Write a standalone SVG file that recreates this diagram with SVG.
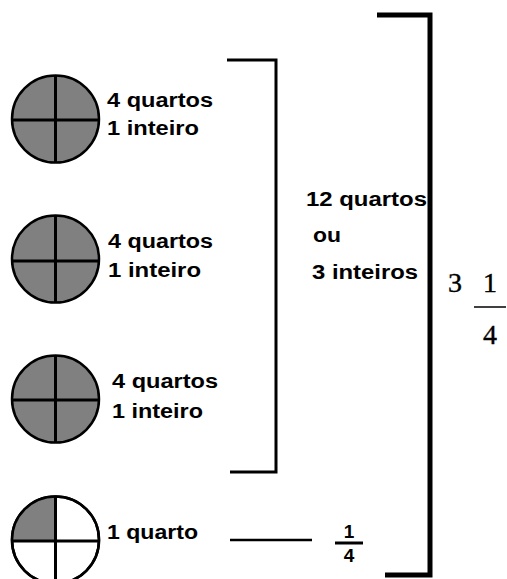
<svg xmlns="http://www.w3.org/2000/svg" width="507" height="579" viewBox="0 0 507 579">
<style>
.c{fill:#808080;stroke:#000;stroke-width:2.5}
.w{fill:#fff;stroke:#000;stroke-width:2.5}
.x{stroke:#000;stroke-width:3;fill:none}
.t{font-family:"Liberation Sans",Arial,sans-serif;font-weight:bold;font-size:20px;fill:#000}
.b{font-family:"Liberation Sans",Arial,sans-serif;font-weight:bold;font-size:20px;fill:#000}
.s{font-family:"Liberation Serif","Times New Roman",serif;font-size:28px;fill:#000;stroke:#000;stroke-width:0.4}
.f{font-family:"Liberation Sans",Arial,sans-serif;font-weight:bold;font-size:19px;fill:#000}
</style>
<rect width="507" height="579" fill="#fff"/>
<g id="circle1">
<circle class="c" cx="55.5" cy="119" r="43.5"/>
<path class="x" d="M12 120H99M55.5 75V163"/>
<text class="t" x="107" y="107" textLength="106" lengthAdjust="spacingAndGlyphs">4 quartos</text>
<text class="t" x="107" y="135" textLength="92" lengthAdjust="spacingAndGlyphs">1 inteiro</text>
</g>
<g id="circle2">
<circle class="c" cx="55.5" cy="259" r="43.5"/>
<path class="x" d="M12 261H99M55.5 215V303"/>
<text class="t" x="108" y="248" textLength="105" lengthAdjust="spacingAndGlyphs">4 quartos</text>
<text class="t" x="108" y="277" textLength="93" lengthAdjust="spacingAndGlyphs">1 inteiro</text>
</g>
<g id="circle3">
<circle class="c" cx="55.5" cy="399" r="43.5"/>
<path class="x" d="M12 400H99M55.5 355V443"/>
<text class="t" x="112" y="388" textLength="106" lengthAdjust="spacingAndGlyphs">4 quartos</text>
<text class="t" x="112" y="418" textLength="91" lengthAdjust="spacingAndGlyphs">1 inteiro</text>
</g>
<g id="circle4">
<circle class="w" cx="55.5" cy="540" r="43.5"/>
<path d="M55.5 540V496.5A43.5 43.5 0 0 0 12 540Z" fill="#808080"/>
<circle cx="55.5" cy="540" r="43.5" fill="none" stroke="#000" stroke-width="2.5"/>
<path class="x" d="M12 541H99M55.5 496V584"/>
<text class="t" x="107" y="539" textLength="91" lengthAdjust="spacingAndGlyphs">1 quarto</text>
</g>
<g id="group12">
<text class="b" x="306" y="206" textLength="121" lengthAdjust="spacingAndGlyphs">12 quartos</text>
<text class="b" x="313" y="242" textLength="28" lengthAdjust="spacingAndGlyphs">ou</text>
<text class="b" x="312" y="279" textLength="106" lengthAdjust="spacingAndGlyphs">3 inteiros</text>
</g>
<g id="quarter">
<text class="f" x="349" y="538" text-anchor="middle">1</text>
<line x1="335" y1="543" x2="363" y2="543" stroke="#000" stroke-width="3"/>
<text class="f" x="349" y="562" text-anchor="middle">4</text>
</g>
<g id="total">
<text class="s" x="448" y="292">3</text>
<text class="s" x="490" y="292" text-anchor="middle">1</text>
<line x1="474" y1="307" x2="506" y2="307" stroke="#000" stroke-width="1.5"/>
<text class="s" x="490" y="344" text-anchor="middle">4</text>
</g>
<g id="connectors">
<polyline class="x" points="227,60 276,60 276,472 230,472"/>
<polyline fill="none" stroke="#000" stroke-width="5" points="377,15 430,15 430,575 385,575"/>
<line x1="230" y1="540" x2="312" y2="540" stroke="#000" stroke-width="2.5"/>
</g>
</svg>
